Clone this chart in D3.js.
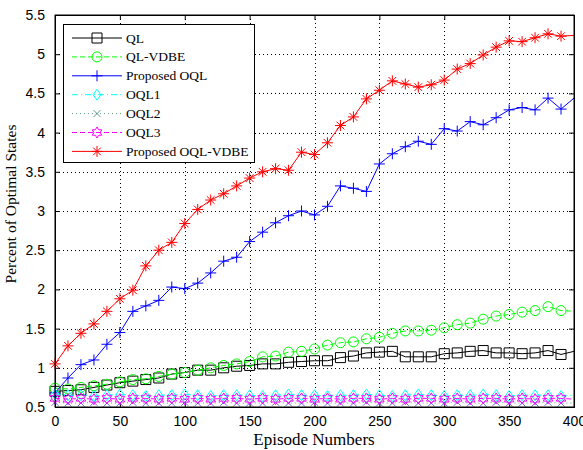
<!DOCTYPE html>
<html><head><meta charset="utf-8">
<script src="https://cdn.jsdelivr.net/npm/d3@7"></script>
<style>body{margin:0;background:#fff}svg{display:block}</style>
</head><body>
<script>
const episodes = [0,10,20,30,40,50,60,70,80,90,100,110,120,130,140,150,160,170,180,190,200,210,220,230,240,250,260,270,280,290,300,310,320,330,340,350,360,370,380,390,400];
const ql = [0.70,0.71,0.72,0.75,0.78,0.81,0.83,0.85,0.87,0.92,0.94,0.97,0.97,1.00,1.02,1.03,1.05,1.05,1.07,1.08,1.09,1.09,1.13,1.15,1.19,1.20,1.21,1.14,1.14,1.14,1.18,1.19,1.21,1.22,1.19,1.19,1.18,1.19,1.22,1.17,1.21];
const qlVdbe = [0.74,0.73,0.75,0.77,0.79,0.82,0.85,0.86,0.89,0.92,0.94,0.97,1.00,1.03,1.05,1.08,1.14,1.15,1.20,1.21,1.24,1.29,1.32,1.33,1.37,1.39,1.44,1.47,1.47,1.48,1.51,1.55,1.57,1.62,1.66,1.68,1.71,1.73,1.78,1.73,1.72];
const propOql = [0.68,0.87,1.04,1.10,1.30,1.45,1.72,1.79,1.86,2.03,2.01,2.08,2.21,2.36,2.41,2.61,2.73,2.85,2.94,3.00,2.95,3.06,3.32,3.29,3.25,3.60,3.73,3.82,3.89,3.85,4.05,4.02,4.14,4.10,4.19,4.29,4.32,4.29,4.44,4.30,4.44];
const oql1 = [0.66,0.65,0.65,0.64,0.65,0.66,0.65,0.64,0.65,0.65,0.66,0.65,0.64,0.65,0.65,0.65,0.64,0.65,0.66,0.65,0.65,0.64,0.65,0.65,0.66,0.65,0.64,0.65,0.66,0.65,0.64,0.65,0.65,0.66,0.65,0.64,0.65,0.65,0.65,0.64,0.65];
const oql2 = [0.56,0.55,0.55,0.56,0.55,0.55,0.56,0.55,0.55,0.55,0.56,0.55,0.55,0.56,0.55,0.55,0.55,0.56,0.55,0.55,0.56,0.55,0.55,0.55,0.56,0.55,0.55,0.56,0.55,0.55,0.55,0.56,0.55,0.55,0.56,0.55,0.55,0.55,0.56,0.55,0.55];
const oql3 = [0.61,0.60,0.61,0.60,0.61,0.60,0.61,0.61,0.60,0.61,0.60,0.61,0.60,0.61,0.61,0.60,0.61,0.60,0.61,0.61,0.60,0.61,0.60,0.61,0.61,0.60,0.61,0.60,0.61,0.61,0.60,0.61,0.60,0.61,0.61,0.60,0.61,0.60,0.61,0.61,0.60];
const propOqlVdbe = [1.05,1.28,1.44,1.56,1.72,1.88,1.99,2.30,2.50,2.60,2.84,3.02,3.14,3.22,3.32,3.42,3.50,3.54,3.52,3.75,3.72,3.87,4.09,4.20,4.43,4.54,4.66,4.62,4.58,4.61,4.67,4.81,4.88,4.99,5.09,5.17,5.16,5.21,5.26,5.23,5.24];
const seriesNames = ["QL","QL-VDBE","Proposed OQL","OQL1","OQL2","OQL3","Proposed OQL-VDBE"];
const xTicks = [0,50,100,150,200,250,300,350,400];
const yTicks = [0.5,1,1.5,2,2.5,3,3.5,4,4.5,5,5.5];

const W = 583, H = 450;
const x = d3.scaleLinear().domain([0,400]).range([55,574]);
const y = d3.scaleLinear().domain([0.5,5.5]).range([407,15]);

const svg = d3.select("body").append("svg").attr("width",W).attr("height",H);
svg.append("rect").attr("width",W).attr("height",H).attr("fill","#fff");

// grid
const grid = svg.append("g").attr("stroke","#000").attr("stroke-width",1).attr("stroke-dasharray","1,3");
xTicks.slice(1,-1).forEach(t=>grid.append("line").attr("x1",Math.round(x(t))+0.5).attr("x2",Math.round(x(t))+0.5).attr("y1",y(5.5)).attr("y2",y(0.5)));
yTicks.slice(1,-1).forEach(t=>grid.append("line").attr("y1",Math.round(y(t))+0.5).attr("y2",Math.round(y(t))+0.5).attr("x1",x(0)).attr("x2",x(400)));

// axes
const fontTick = "'Liberation Sans', Arial, sans-serif";
const xb = svg.append("g").attr("transform",`translate(0,${y(0.5)})`).call(d3.axisBottom(x).tickValues(xTicks).tickSize(-5).tickPadding(9).tickFormat(d3.format("d")));
const xt = svg.append("g").attr("transform",`translate(0,${y(5.5)})`).call(d3.axisTop(x).tickValues(xTicks).tickSize(-5).tickFormat(""));
const yl = svg.append("g").attr("transform",`translate(${x(0)},0)`).call(d3.axisLeft(y).tickValues(yTicks).tickSize(-5).tickPadding(10).tickFormat(d=>d3.format("")(d)));
const yr = svg.append("g").attr("transform",`translate(${x(400)},0)`).call(d3.axisRight(y).tickValues(yTicks).tickSize(-5).tickFormat(""));
[xb,xt,yl,yr].forEach(g=>{
  g.select(".domain").attr("stroke","#000");
  g.selectAll(".tick line").attr("stroke","#000");
  g.selectAll("text").attr("font-family",fontTick).attr("font-size",14).attr("fill","#000");
});

const sym = {
  square: r=>`M${-r},${-r}H${r}V${r}H${-r}Z`,
  circle: r=>`M${r},0A${r},${r} 0 1,1 ${-r},0A${r},${r} 0 1,1 ${r},0Z`,
  plus: r=>`M${-r},0H${r}M0,${-r}V${r}`,
  diamond: r=>`M0,${-r}L${r*0.7},0L0,${r}L${-r*0.7},0Z`,
  cross: r=>`M${-r*0.7},${-r*0.7}L${r*0.7},${r*0.7}M${-r*0.7},${r*0.7}L${r*0.7},${-r*0.7}`,
  hexagram: r=>{let p=[];for(let i=0;i<12;i++){const a=-Math.PI/2+i*Math.PI/6;const rr=i%2?r*0.58:r;p.push([rr*Math.cos(a),rr*Math.sin(a)]);}return "M"+p.map(d=>d[0].toFixed(2)+","+d[1].toFixed(2)).join("L")+"Z";},
  asterisk: r=>`M${-r},0H${r}M0,${-r}V${r}M${-r*0.7},${-r*0.7}L${r*0.7},${r*0.7}M${-r*0.7},${r*0.7}L${r*0.7},${-r*0.7}`
};

const series = [
  {name:seriesNames[0], vals:ql, color:"#000000", dash:null, marker:"square", r:5},
  {name:seriesNames[1], vals:qlVdbe, color:"#00ff00", dash:"5,3", marker:"circle", r:5},
  {name:seriesNames[2], vals:propOql, color:"#0000ff", dash:null, marker:"plus", r:5.5},
  {name:seriesNames[3], vals:oql1, color:"#00ffff", dash:"6,3,1,3", marker:"diamond", r:5.5},
  {name:seriesNames[4], vals:oql2, color:"#5f9f8a", mcolor:"#6b6be0", dash:"1,3", marker:"cross", r:5},
  {name:seriesNames[5], vals:oql3, color:"#ff00ff", dash:"5,3", marker:"hexagram", r:5.5},
  {name:seriesNames[6], vals:propOqlVdbe, color:"#ff0000", dash:null, marker:"asterisk", r:5.5}
];

const line = d3.line().x((d,i)=>x(episodes[i])).y(d=>y(d));
const plot = svg.append("g");
series.forEach(s=>{
  plot.append("path").attr("d",line(s.vals)).attr("fill","none").attr("stroke",s.color).attr("stroke-width",1)
    .attr("stroke-dasharray",s.dash);
  const pts = s.vals.map((v,i)=>[episodes[i],v]).filter(d=>d[0]<400);
  plot.selectAll(null).data(pts).join("path")
    .attr("transform",d=>`translate(${x(d[0])},${y(d[1])})`)
    .attr("d",sym[s.marker](s.r)).attr("fill","none").attr("stroke",s.mcolor||s.color).attr("stroke-width",1);
});

// redraw box on top
svg.append("rect").attr("x",x(0)).attr("y",y(5.5)).attr("width",x(400)-x(0)).attr("height",y(0.5)-y(5.5))
  .attr("fill","none").attr("stroke","#000").attr("stroke-width",1);

// legend
const fontSerif = "'Liberation Serif','Times New Roman',serif";
const lg = svg.append("g");
lg.append("rect").attr("x",63.5).attr("y",24.5).attr("width",191).attr("height",138).attr("fill","#fff").attr("stroke","#000");
series.forEach((s,i)=>{
  const yy = 38 + i*18.9;
  lg.append("line").attr("x1",72).attr("x2",122).attr("y1",yy).attr("y2",yy).attr("stroke",s.color).attr("stroke-dasharray",s.dash);
  lg.append("path").attr("transform",`translate(97,${yy})`).attr("d",sym[s.marker](s.r)).attr("fill","none").attr("stroke",s.color);
  lg.append("text").attr("x",126).attr("y",yy+4.5).text(s.name).attr("font-family",fontSerif).attr("font-size",13.5).attr("fill","#000");
});

// axis labels
svg.append("text").attr("x",314).attr("y",445).attr("text-anchor","middle").attr("font-family",fontSerif).attr("font-size",17).text("Episode Numbers");
svg.append("text").attr("transform",`translate(16,${(y(0.5)+y(5.5))/2 - 7}) rotate(-90)`).attr("text-anchor","middle").attr("font-family",fontSerif).attr("font-size",15.5).text("Percent of Optimal States");
</script>
</body></html>
